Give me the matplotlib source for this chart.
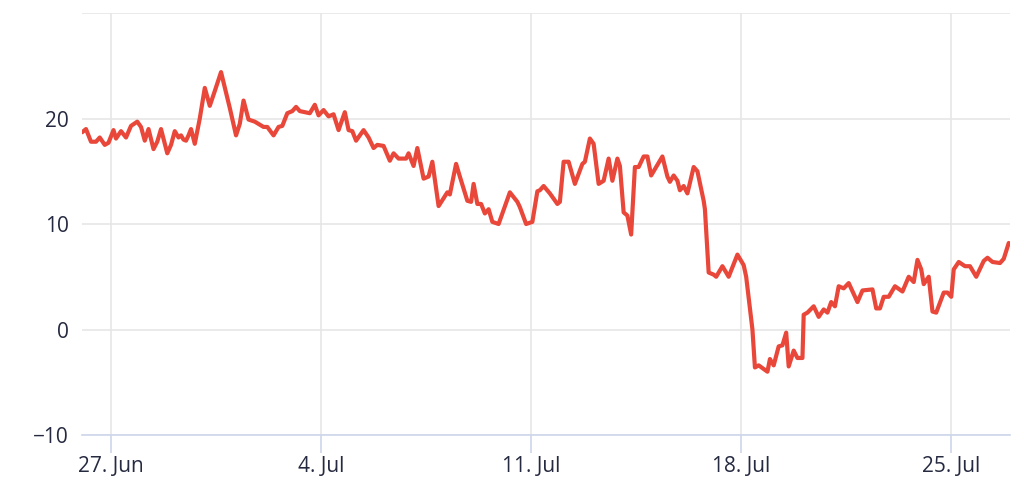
import pandas as pd
import matplotlib
matplotlib.use("Agg")
import matplotlib.pyplot as plt

plt.rcParams["font.family"] = ["Open Sans", "DejaVu Sans"]

# hours after 27 Jun 00:00 and the reading at that time
start = pd.Timestamp("2023-06-27 00:00")
hours = [
    -23, -20, -16, -12, -9, -5, -2, 2, 4, 8, 12, 16, 21, 24, 27, 30, 34, 37, 40, 45,
    48, 51, 54, 56, 58, 60, 62, 64, 67, 71, 75, 79, 83, 88, 95, 100, 103, 106, 110, 115,
    122, 125, 130, 134, 137, 141, 145, 148, 151, 159, 163, 166, 170, 174, 178, 182, 187, 190, 193, 196,
    202, 206, 210, 213, 218, 223, 226, 230, 236, 238, 242, 245, 250, 254, 257, 262, 269, 271, 276, 279,
    285, 288, 290, 293, 296, 299, 302, 305, 310, 319, 325, 327, 332, 337, 341, 343, 346, 351, 357, 359,
    362, 366, 371, 377, 379, 383, 386, 390, 394, 398, 401, 405, 407, 410, 413, 416, 419, 422, 426, 429,
    432, 435, 441, 445, 447, 450, 453, 455, 458, 461, 466, 469, 474, 475, 478, 482, 484, 489, 494, 501,
    506, 508, 513, 515, 518, 525, 527, 530, 534, 537, 540, 542, 546, 549, 553, 554, 557, 562, 566, 570,
    573, 576, 579, 582, 586, 590, 597, 601, 609, 612, 615, 618, 622, 627, 633, 638, 642, 645, 648, 650,
    654, 657, 660, 666, 669, 672, 674, 678, 683, 687, 692, 698, 701, 705, 711, 714, 718,
]
values = [
    18.7, 19.0, 17.8, 17.8, 18.2, 17.5, 17.7, 18.9, 18.1, 18.8, 18.2, 19.3, 19.7, 19.2, 17.9, 19.0, 17.1, 17.8, 19.0, 16.7,
    17.5, 18.8, 18.2, 18.4, 18.0, 17.9, 18.4, 19.0, 17.6, 20.0, 22.9, 21.2, 22.6, 24.4, 21.0, 18.4, 19.5, 21.7, 19.9, 19.7,
    19.2, 19.2, 18.4, 19.2, 19.3, 20.5, 20.7, 21.1, 20.7, 20.5, 21.3, 20.3, 20.8, 20.2, 20.4, 18.9, 20.6, 18.9, 18.8, 17.9,
    18.9, 18.2, 17.2, 17.5, 17.4, 16.0, 16.7, 16.2, 16.2, 16.7, 15.5, 17.2, 14.3, 14.5, 15.9, 11.7, 13.0, 12.8, 15.7, 14.5,
    12.2, 12.1, 13.8, 11.9, 11.9, 11.0, 11.4, 10.2, 10.0, 13.0, 12.1, 11.6, 10.0, 10.2, 13.1, 13.2, 13.6, 12.9, 11.9, 12.1,
    15.9, 15.9, 13.8, 15.7, 15.9, 18.1, 17.6, 13.8, 14.1, 16.2, 14.1, 16.2, 15.5, 11.1, 10.8, 9.0, 15.4, 15.4, 16.4, 16.4,
    14.6, 15.2, 16.4, 14.5, 14.0, 14.6, 14.1, 13.2, 13.6, 12.9, 15.4, 15.0, 12.2, 11.4, 5.4, 5.2, 5.0, 6.0, 5.0, 7.1,
    6.1, 5.0, 0.0, -3.6, -3.4, -4.0, -2.8, -3.4, -1.6, -1.5, -0.3, -3.5, -2.0, -2.7, -2.7, 1.4, 1.6, 2.2, 1.2, 1.9,
    1.6, 2.6, 2.2, 4.1, 3.9, 4.4, 2.6, 3.7, 3.8, 2.0, 2.0, 3.1, 3.1, 4.1, 3.6, 5.0, 4.5, 6.6, 5.7, 4.3,
    5.0, 1.7, 1.6, 3.5, 3.5, 3.1, 5.7, 6.4, 6.0, 6.0, 5.0, 6.5, 6.8, 6.4, 6.3, 6.7, 8.2,
]
tick_dates = ["2023-06-27", "2023-07-04", "2023-07-11", "2023-07-18", "2023-07-25"]
tick_labels = ["27. Jun", "4. Jul", "11. Jul", "18. Jul", "25. Jul"]
y_ticks = [-10, 0, 10, 20, 30]
y_labels = ["\u221210", "0", "10", "20", ""]

times = start + pd.to_timedelta(hours, unit="h")

fig = plt.figure(figsize=(10.24, 4.94), dpi=100)
ax = fig.add_axes([82 / 1024, 59 / 494, 928 / 1024, 422 / 494])

ax.plot(times, values, color="#e8473a", linewidth=3.0,
        solid_joinstyle="round", solid_capstyle="round", zorder=3)

ax.set_xlim(start - pd.Timedelta(hours=23.2), start + pd.Timedelta(hours=719.0))
ax.set_ylim(-10, 30)

ax.set_xticks(pd.to_datetime(tick_dates))
ax.set_xticklabels(tick_labels)
ax.set_yticks(y_ticks)
ax.set_yticklabels(y_labels)

ax.grid(True, color="#e6e6e6", linewidth=1.2, zorder=0)
for s in ["left", "right", "top"]:
    ax.spines[s].set_visible(False)
ax.spines["bottom"].set_color("#ccd6eb")
ax.spines["bottom"].set_linewidth(1.2)

ax.tick_params(axis="x", length=13, width=1.2, color="#ccd6eb", pad=2,
               labelsize=15, labelcolor="#262a40")
ax.tick_params(axis="y", length=0, pad=9.5, labelsize=15, labelcolor="#262a40")

fig.savefig("out.png", dpi=100)
